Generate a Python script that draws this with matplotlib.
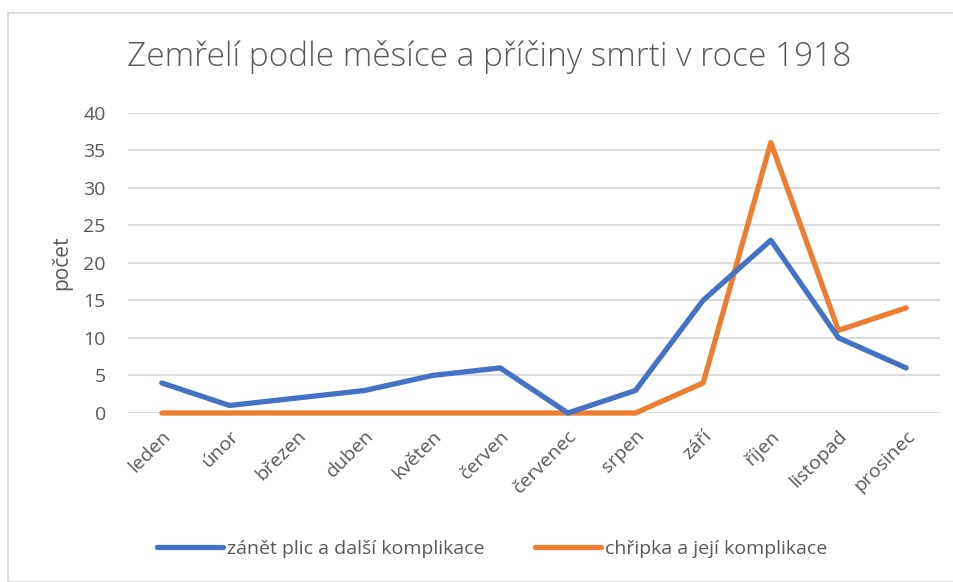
import matplotlib
matplotlib.use('Agg')
import matplotlib.pyplot as plt
from matplotlib.patches import Rectangle

plt.rcParams['font.family'] = ['Open Sans', 'DejaVu Sans']

months = ['leden', 'únor', 'březen', 'duben', 'květen', 'červen',
          'červenec', 'srpen', 'září', 'říjen', 'listopad', 'prosinec']
pneumonia = [4, 1, 2, 3, 5, 6, 0, 3, 15, 23, 10, 6]
influenza = [0, 0, 0, 0, 0, 0, 0, 0, 4, 36, 11, 14]
y_ticks = [0, 5, 10, 15, 20, 25, 30, 35, 40]

BLUE = '#4472C4'
ORANGE = '#ED7D31'
TEXT = '#595959'

W, H = 954, 582
fig = plt.figure(figsize=(W / 100, H / 100), dpi=100)

# light chart border (only top/left visible in the crop)
fig.patches.append(Rectangle((8 / W, 0), 1.0, 1 - 13 / H, transform=fig.transFigure,
                             fill=False, edgecolor='#D9D9D9', linewidth=1.2))

ax = fig.add_axes([128 / W, 1 - 413 / H, 812 / W, 300.5 / H])
x = range(len(months))
l1, = ax.plot(x, pneumonia, color=BLUE, linewidth=3.8, solid_capstyle='round',
              solid_joinstyle='round', label='zánět plic a další komplikace',
              zorder=3, clip_on=False)
l2, = ax.plot(x, influenza, color=ORANGE, linewidth=3.8, solid_capstyle='round',
              solid_joinstyle='round', label='chřipka a její komplikace',
              zorder=2, clip_on=False)

ax.set_xlim(-0.5, len(months) - 0.5)
ax.set_ylim(0, 40)
ax.set_yticks(y_ticks)
ax.set_yticklabels([str(v) for v in y_ticks], fontsize=14, color=TEXT)
ax.set_xticks(list(x))
ax.set_xticklabels(months, rotation=45, ha='right', rotation_mode='anchor',
                   fontsize=14, color=TEXT)
ax.tick_params(axis='y', length=0, pad=16)
ax.tick_params(axis='x', length=0, pad=10)
ax.grid(axis='y', color='#D9D9D9', linewidth=1.3)
ax.set_axisbelow(True)
for s in ax.spines.values():
    s.set_visible(False)

ax.set_ylabel('počet', fontsize=15, color=TEXT, labelpad=8)

fig.text(489 / W, 1 - 57 / H, 'Zemřelí podle měsíce a příčiny smrti v roce 1918',
         ha='center', va='center', fontsize=24, color=TEXT, fontweight='light')

fig.legend(handles=[l1, l2], loc='center', bbox_to_anchor=(492 / W, 1 - 549 / H),
           ncol=2, frameon=False, fontsize=14, labelcolor=TEXT,
           handlelength=3.4, handletextpad=0.2, columnspacing=2.6)

fig.savefig('out.png', dpi=100)
